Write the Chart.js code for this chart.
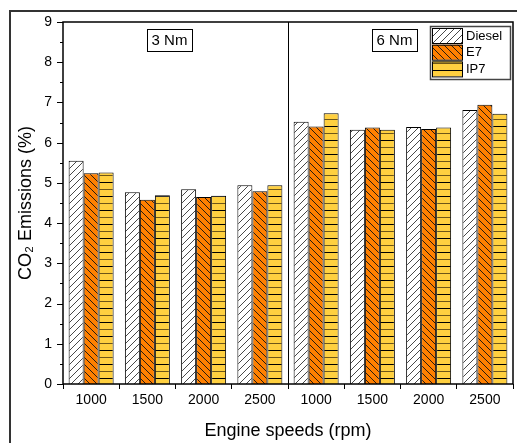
<!DOCTYPE html>
<html lang="en">
  <head>
    <meta charset="UTF-8" />
    <title>CO2 Emissions vs Engine speed</title>
    <script src="https://cdn.jsdelivr.net/npm/chart.js"></script>
    <style>
      body { margin: 0; background: #fff; }
      #wrap { width: 517px; height: 443px; }
    </style>
  </head>
  <body>
    <div id="wrap"><canvas id="myChart" width="517" height="443"></canvas></div>

    <script>
      // engine speeds, first four at 3 Nm load, last four at 6 Nm
      var speeds = ["1000", "1500", "2000", "2500", "1000", "1500", "2000", "2500"];
      var loadLabels = ["3 Nm", "6 Nm"];
      var diesel = [5.55, 4.77, 4.84, 4.94, 6.52, 6.32, 6.39, 6.81];
      var e7 = [5.24, 4.58, 4.65, 4.79, 6.40, 6.38, 6.34, 6.94];
      var ip7 = [5.26, 4.69, 4.68, 4.94, 6.73, 6.32, 6.38, 6.72];
      var seriesNames = ["Diesel", "E7", "IP7"];
      var yTicks = [0, 1, 2, 3, 4, 5, 6, 7, 8, 9];

      var FONT = "'Liberation Sans', Arial, sans-serif";

      // hatch fills
      function makePattern(kind) {
        var c = document.createElement("canvas");
        var p = c.getContext("2d");
        if (kind === "diesel") {
          c.width = 7; c.height = 7;
          p.fillStyle = "#ffffff";
          p.fillRect(0, 0, 7, 7);
          p.strokeStyle = "#333";
          p.lineWidth = 0.9;
          p.beginPath();
          p.moveTo(0, 7); p.lineTo(7, 0);
          p.moveTo(-1, 1); p.lineTo(1, -1);
          p.moveTo(6, 8); p.lineTo(8, 6);
          p.stroke();
        } else if (kind === "e7") {
          c.width = 7; c.height = 7;
          p.fillStyle = "#ff8000";
          p.fillRect(0, 0, 7, 7);
          p.strokeStyle = "#111";
          p.lineWidth = 0.9;
          p.beginPath();
          p.moveTo(0, 0); p.lineTo(7, 7);
          p.moveTo(-1, 6); p.lineTo(1, 8);
          p.moveTo(6, -1); p.lineTo(8, 1);
          p.stroke();
        } else {
          c.width = 4; c.height = 14;
          p.fillStyle = "#ffd040";
          p.fillRect(0, 0, 4, 14);
          p.fillStyle = "#000";
          p.fillRect(0, 0, 4, 1);
          p.fillStyle = "#6e5618";
          p.fillRect(0, 7, 4, 1);
        }
        return document.getElementById("myChart").getContext("2d").createPattern(c, "repeat");
      }

      var fills = [makePattern("diesel"), makePattern("e7"), makePattern("ip7")];

      // frame, plot box, y ticks, divider, load boxes and legend
      var decorations = {
        id: "decorations",
        afterDraw: function (chart) {
          var ctx = chart.ctx;
          var a = chart.chartArea;
          var xs = chart.scales.x;
          var ys = chart.scales.y;
          ctx.save();

          // outer frame
          ctx.strokeStyle = "#333";
          ctx.lineWidth = 2;
          ctx.strokeRect(10, 11, 530, 460);

          // y ticks, major and minor
          ctx.strokeStyle = "#000";
          ctx.lineWidth = 1;
          for (var v = 0; v <= 9; v += 0.5) {
            var y = Math.round(ys.getPixelForValue(v)) + 0.5;
            var len = v % 1 === 0 ? 6 : 3;
            ctx.beginPath();
            ctx.moveTo(a.left - len, y);
            ctx.lineTo(a.left, y);
            ctx.stroke();
          }

          // divider between the two loads
          var midX = Math.round((xs.getPixelForValue(3) + xs.getPixelForValue(4)) / 2) + 0.5;
          ctx.beginPath();
          ctx.moveTo(midX, a.top);
          ctx.lineTo(midX, a.bottom);
          ctx.stroke();

          // plot box
          ctx.lineWidth = 1.5;
          ctx.strokeRect(a.left, a.top, a.right - a.left, a.bottom - a.top);

          // load labels
          ctx.font = "15px " + FONT;
          ctx.textAlign = "center";
          ctx.textBaseline = "middle";
          var boxY = ys.getPixelForValue(8.55);
          [1, 5].forEach(function (i, k) {
            var cx = (xs.getPixelForValue(i) + xs.getPixelForValue(i + 1)) / 2 - 6;
            var w = ctx.measureText(loadLabels[k]).width + 9;
            ctx.fillStyle = "#fff";
            ctx.fillRect(cx - w / 2, boxY - 11, w, 22);
            ctx.strokeStyle = "#000";
            ctx.lineWidth = 1;
            ctx.strokeRect(Math.round(cx - w / 2) + 0.5, Math.round(boxY - 11) + 0.5, Math.round(w), 22);
            ctx.fillStyle = "#000";
            ctx.fillText(loadLabels[k], cx, boxY + 1);
          });

          // legend
          var lx = a.right - 83, ly = a.top + 4;
          ctx.fillStyle = "#fff";
          ctx.fillRect(lx, ly, 80, 53);
          ctx.strokeStyle = "#444";
          ctx.lineWidth = 1.5;
          ctx.strokeRect(lx + 0.5, ly + 0.5, 80, 53);
          ctx.font = "13px " + FONT;
          ctx.textAlign = "left";
          seriesNames.forEach(function (name, i) {
            var sy = ly + 2 + i * 16.7;
            ctx.fillStyle = fills[i];
            ctx.fillRect(lx + 2, sy, 30, 15);
            ctx.strokeStyle = "#000";
            ctx.lineWidth = 1;
            ctx.strokeRect(lx + 2.5, sy + 0.5, 30, 15);
            ctx.fillStyle = "#000";
            ctx.fillText(name, lx + 36, sy + 8);
          });

          ctx.restore();
        }
      };

      var ctx = document.getElementById("myChart").getContext("2d");

      new Chart(ctx, {
        type: "bar",
        data: {
          labels: speeds,
          datasets: [diesel, e7, ip7].map(function (d, i) {
            return {
              label: seriesNames[i],
              data: d,
              backgroundColor: fills[i],
              borderColor: "#000",
              borderWidth: 1,
              categoryPercentage: 0.8,
              barPercentage: 1.0
            };
          })
        },
        options: {
          responsive: false,
          animation: false,
          layout: { padding: { top: 22, right: 4, left: 0, bottom: 0 } },
          plugins: {
            legend: { display: false },
            tooltip: { enabled: false }
          },
          scales: {
            x: {
              offset: true,
              grid: {
                display: true,
                offset: true,
                drawOnChartArea: false,
                drawTicks: true,
                tickLength: 5,
                tickColor: "#000",
                tickWidth: 1
              },
              border: { display: false },
              ticks: { color: "#000", font: { family: FONT, size: 14 }, padding: 3, maxRotation: 0, autoSkip: false },
              title: {
                display: true,
                text: "Engine speeds (rpm)",
                color: "#000",
                font: { family: FONT, size: 18 },
                padding: { top: 0, bottom: 1 }
              },
              afterFit: function (scale) { scale.height = 59; }
            },
            y: {
              min: 0,
              max: 9,
              afterBuildTicks: function (scale) {
                scale.ticks = yTicks.map(function (v) { return { value: v }; });
              },
              grid: { display: false, drawTicks: false },
              border: { display: false },
              ticks: { color: "#000", font: { family: FONT, size: 14 }, padding: 11 },
              title: {
                display: true,
                text: "CO\u2082 Emissions (%)",
                color: "#000",
                font: { family: FONT, size: 18 },
                padding: { top: 15, bottom: 0 }
              },
              afterFit: function (scale) { scale.width = 63; }
            }
          }
        },
        plugins: [decorations]
      });
    </script>
  </body>
</html>
